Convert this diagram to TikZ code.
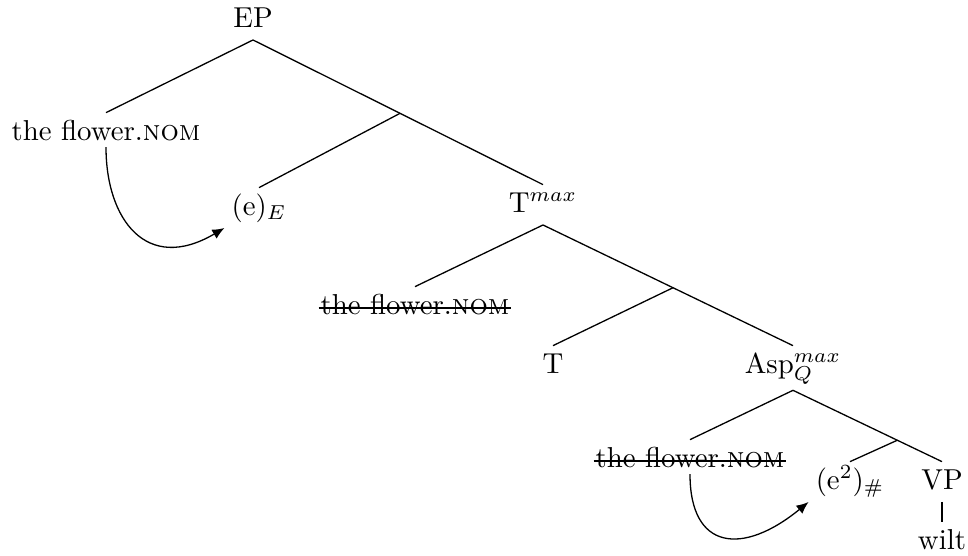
\documentclass[tikz,border=0pt]{standalone}
\usepackage{tikz}
\usetikzlibrary{arrows.meta}
\tikzset{
  lbl/.style ={inner sep=2.3pt,text height=7pt,text depth=2pt,anchor=base},
  stk/.style ={lbl,path picture={
                 \draw[line width=0.8pt]
                   ([xshift=1.6pt,yshift=-0.3pt]path picture bounding box.west) --
                   ([xshift=-1.8pt,yshift=-0.3pt]path picture bounding box.east);}},
  br/.style  ={draw=black,line width=0.45pt},
  lex/.style ={draw=black,line width=0.8pt},
  mv/.style  ={-{Latex[length=4.2pt,width=3.6pt]},draw=black,line width=0.45pt},
}

\begin{document}
\begin{tikzpicture}[x=0.347pt,y=-0.347pt]
\useasboundingbox (0,0) rectangle (968,555);

% ===== EP ================================================================
\node[lbl] (ep)   at (253,27)  {EP};
\node[lbl] (flw)  at (106,140) {the flower.\textsc{nom}};
\node[lbl] (e1)   at (259,215) {(e)$_E$};
\node[lbl] (tmax) at (543,212) {T$^{max}$};

\path (ep.south) -- (tmax.north) coordinate[pos=0.507] (x1);
\draw[br] (ep.south) -- (flw.north);
\draw[br] (ep.south) -- (tmax.north);
\draw[br] (x1) -- (e1.north);

% ===== T max =============================================================
\node[stk] (stk1) at (415,314) {the flower.\textsc{nom}};
\node[lbl] (tn)   at (553,373) {T};
\node[lbl,text depth=3.5pt] (asp) at (793,373) {Asp$^{max}_Q$};

\path (tmax.south) -- (asp.north) coordinate[pos=0.52] (y1);
\draw[br] (tmax.south) -- (stk1.north);
\draw[br] (tmax.south) -- (asp.north);
\draw[br] (y1) -- (tn.north);

% ===== Asp max ===========================================================
\node[stk] (stk2) at (690,467) {the flower.\textsc{nom}};
\node[lbl] (e2)   at (850,489) {(e$^2$)$_\#$};
\node[lbl] (vp)   at (942,489) {VP};
\node[lbl] (wilt) at (942,549) {wilt};

\path (asp.south) -- (vp.north) coordinate[pos=0.70] (z1);
\draw[br]  (asp.south) -- (stk2.north);
\draw[br]  (asp.south) -- (vp.north);
\draw[br]  (z1) -- (e2.north);
\draw[lex] (vp.south) -- (wilt.north);

% movement arrows
\draw[mv] ([yshift=2pt]flw.south) .. controls +(0,72) and +(-78,46) .. (e1.south west);
\draw[mv] ([yshift=2pt]stk2.south) .. controls +(0,76) and +(-66,54) .. (e2.south west);
\end{tikzpicture}
\end{document}
